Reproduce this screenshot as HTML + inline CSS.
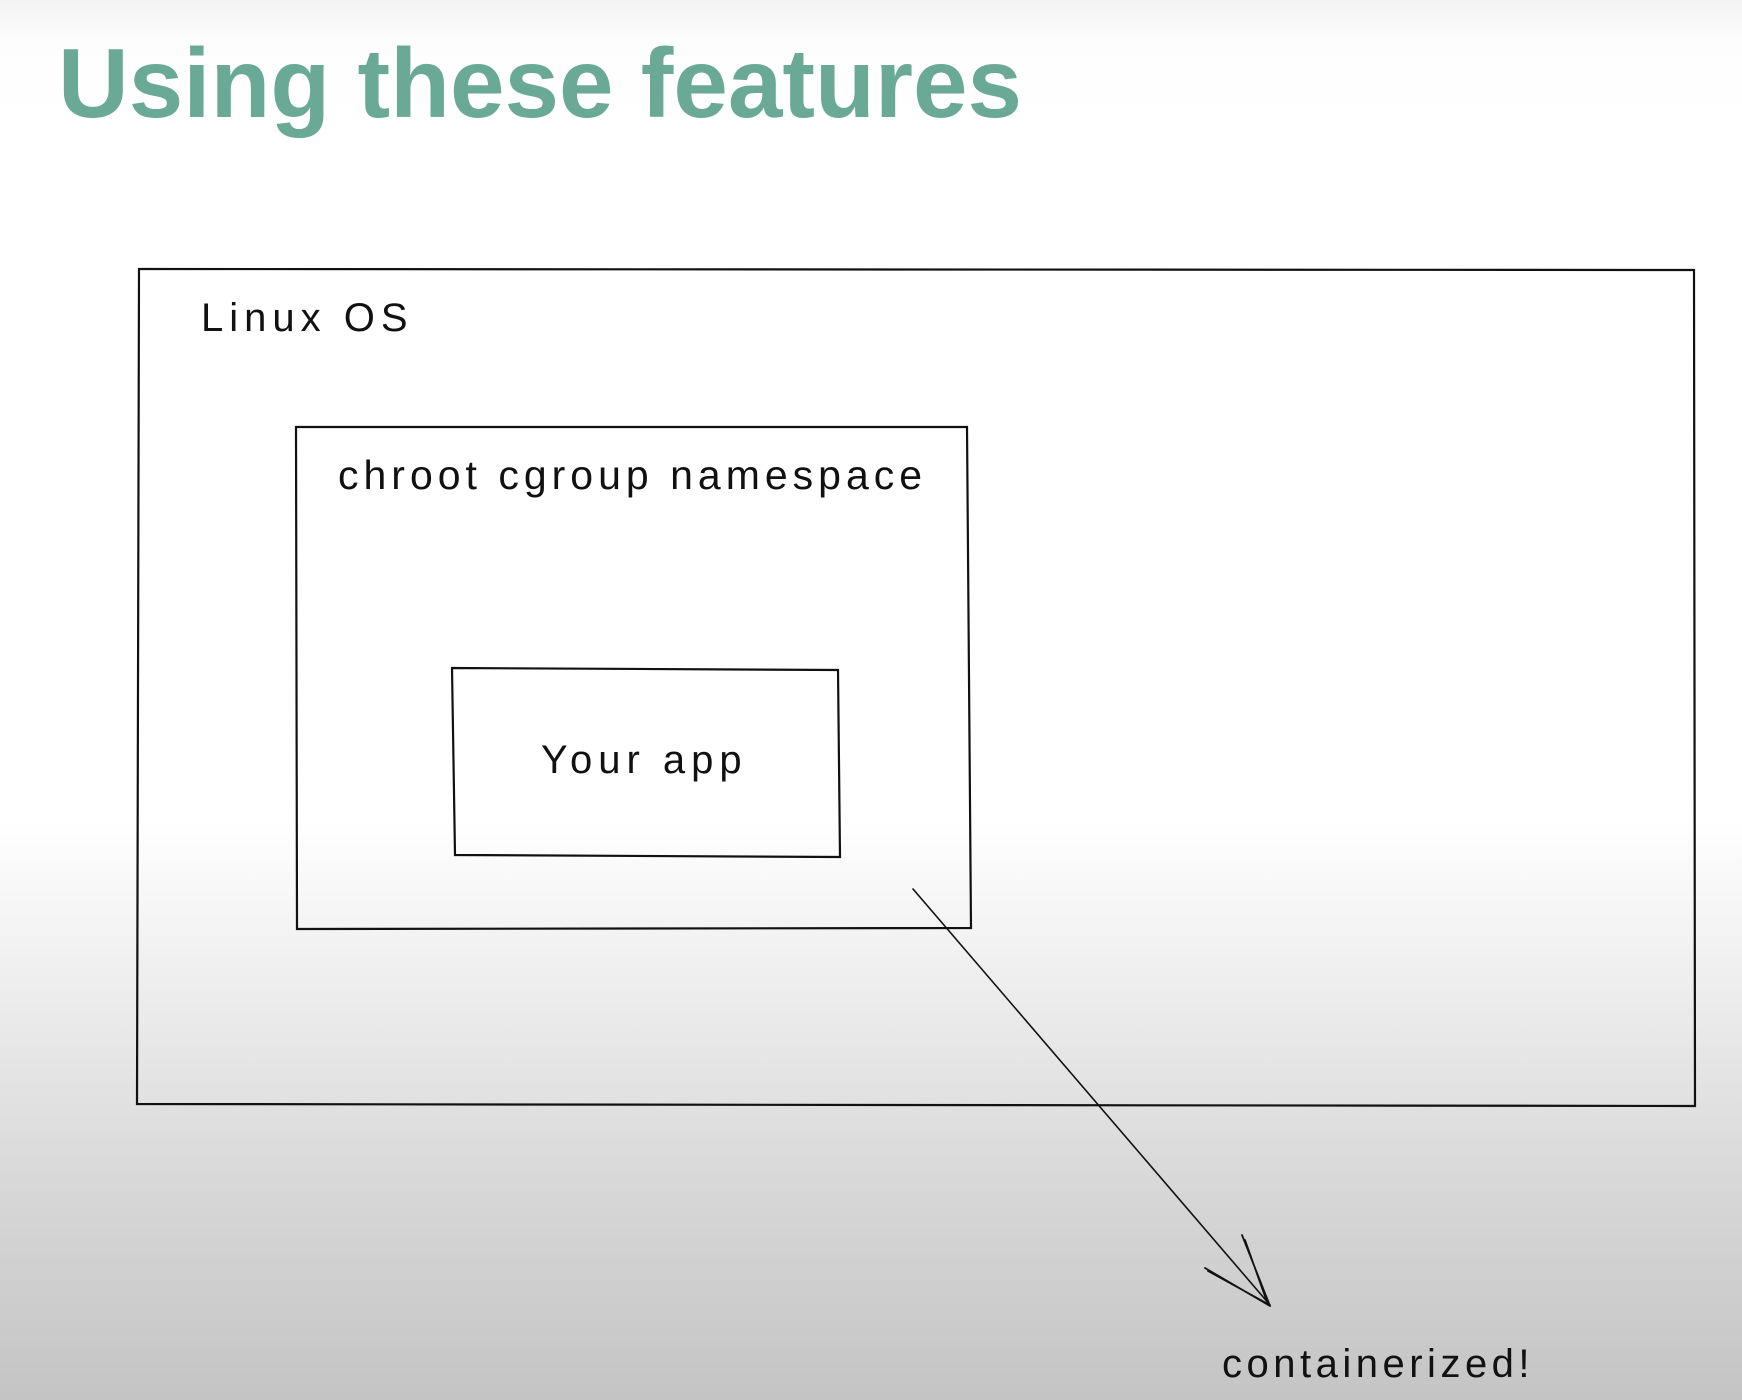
<!DOCTYPE html>
<html><head><meta charset="utf-8"><style>
html,body{margin:0;padding:0}
body{width:1742px;height:1400px;overflow:hidden;position:relative;
background:linear-gradient(to bottom,#f3f3f3 0px,#fdfdfd 40px,#ffffff 120px,#ffffff 820px,#ececec 1000px,#d6d6d6 1200px,#c4c4c4 1400px);
font-family:"Liberation Sans",sans-serif}
.t{position:absolute;white-space:nowrap}
</style></head><body>
<div class="t" style="left:58px;top:27px;font-size:98px;font-weight:bold;color:#6aa996;letter-spacing:0px">Using these features</div>
<svg width="1742" height="1400" style="position:absolute;left:0;top:0" fill="none" stroke="#111" stroke-width="2.2" stroke-linecap="round">
<path d="M139 269 L1694 270 L1695 1106 L137 1104 Z"/>
<path d="M296 427 L967 427 L971 928 L297 929 Z"/>
<path d="M452 668 L838 670 L840 857 L455 855 Z"/>
<path d="M913 889 L1270 1305" stroke-width="1.6"/>
<path d="M1205 1268 L1270 1306 M1208 1271 L1268 1304 M1242 1235 L1270 1306 M1245 1240 L1267 1302" stroke-width="1.8"/>
</svg>
<div class="t" style="left:201px;top:296px;font-size:40px;color:#111;letter-spacing:6px">Linux OS</div>
<div class="t" style="left:338px;top:452px;font-size:41px;color:#111;letter-spacing:5px">chroot cgroup namespace</div>
<div class="t" style="left:541px;top:738px;font-size:40px;color:#111;letter-spacing:6px">Your app</div>
<div class="t" style="left:1222px;top:1342px;font-size:40px;color:#111;letter-spacing:4.5px">containerized!</div>
</body></html>
